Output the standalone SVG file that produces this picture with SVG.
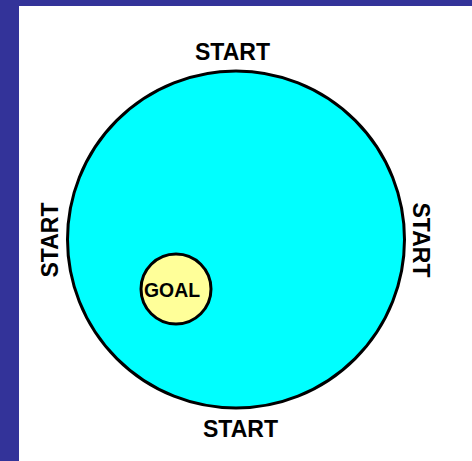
<svg xmlns="http://www.w3.org/2000/svg" width="472" height="461" viewBox="0 0 472 461">
<style>
.lbl{font-family:"Liberation Sans",Arial,sans-serif;font-weight:bold;fill:#000;text-anchor:middle}
.start{font-size:23.5px}
.goal{font-size:21px}
</style>
<rect x="0" y="0" width="472" height="461" fill="#ffffff"/>
<rect x="0" y="0" width="472" height="6" fill="#333399"/>
<rect x="0" y="0" width="19" height="461" fill="#333399"/>
<g id="field">
<circle cx="236" cy="239.5" r="168.5" fill="#00ffff" stroke="#000" stroke-width="3"/>
</g>
<g id="goal">
<circle cx="176" cy="289" r="35" fill="#ffff99" stroke="#000" stroke-width="3"/>
<text class="lbl goal" x="172" y="297" textLength="56" lengthAdjust="spacingAndGlyphs">GOAL</text>
</g>
<g id="start-top"><text class="lbl start" x="232.5" y="60" textLength="75" lengthAdjust="spacingAndGlyphs">START</text></g>
<g id="start-bottom"><text class="lbl start" x="240.5" y="437" textLength="75" lengthAdjust="spacingAndGlyphs">START</text></g>
<g id="start-left"><text class="lbl start" transform="translate(58,240) rotate(-90)" x="0" y="0" textLength="75" lengthAdjust="spacingAndGlyphs">START</text></g>
<g id="start-right"><text class="lbl start" transform="translate(413,240) rotate(90)" x="0" y="0" textLength="75" lengthAdjust="spacingAndGlyphs">START</text></g>
<g id="connectors"></g>
</svg>
